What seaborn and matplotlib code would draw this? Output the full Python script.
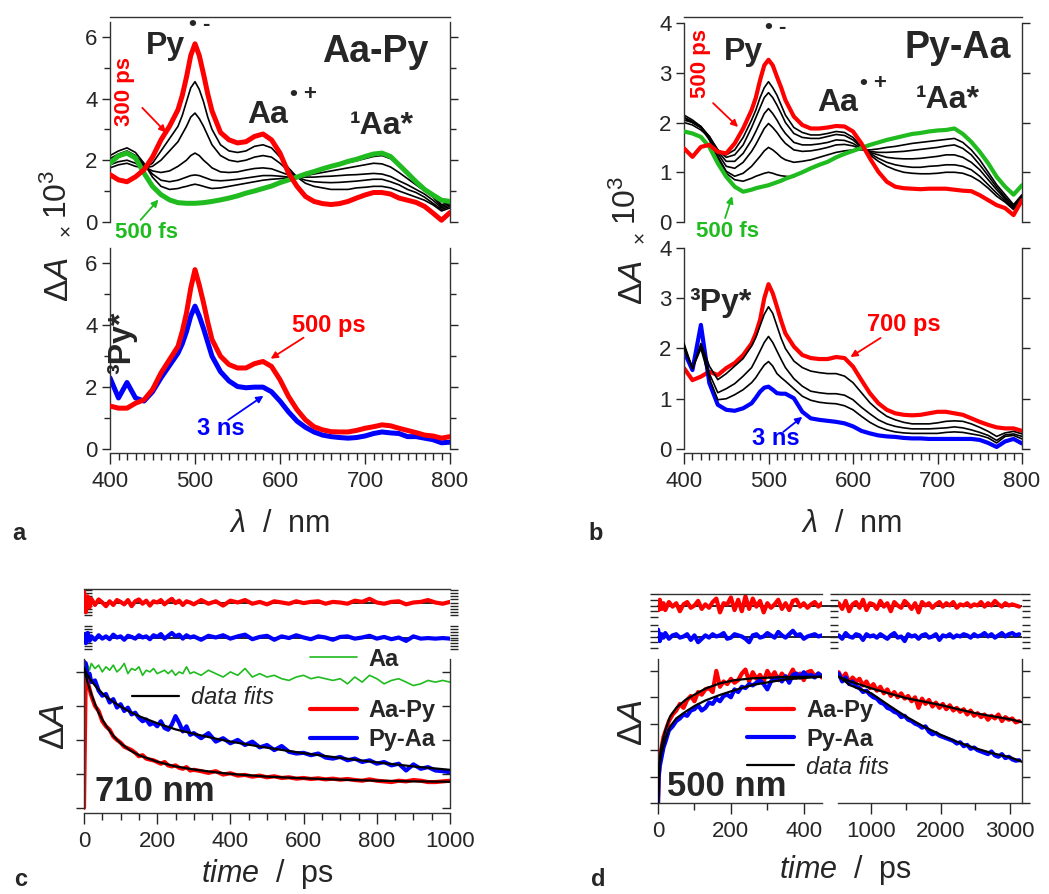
import matplotlib
matplotlib.use("Agg")
import matplotlib.pyplot as plt
from matplotlib.lines import Line2D
from matplotlib.ticker import MultipleLocator, FixedLocator
import seaborn as sns

# ---------------- data ----------------
wl = [400, 410, 420, 430, 440, 450, 460, 470, 480,
      485, 490, 495, 500, 505, 510, 515,
      520, 530, 540, 550, 560, 570, 580, 590, 600, 610, 620, 630, 640, 650,
      660, 670, 680, 690, 700, 710, 720, 730, 740, 750, 760, 770, 780, 790, 800]

# panel a, top (Aa-Py)
a_top_red = [1.53, 1.36, 1.30, 1.46, 1.69, 2.1, 2.66, 3.1, 3.64,
             4.1, 4.7, 5.4, 5.78, 5.4, 4.8, 4.15,
             3.6, 2.9, 2.66, 2.56, 2.6, 2.77, 2.85, 2.66, 2.23, 1.58, 1.15, 0.82, 0.66, 0.59,
             0.56, 0.59, 0.66, 0.77, 0.87, 0.95, 0.95, 0.9, 0.77, 0.7, 0.63, 0.5, 0.28, 0.05, 0.3]
a_top_green = [1.9, 2.14, 2.23, 2.07, 1.58, 1.15, 0.88, 0.71, 0.62,
               0.61, 0.6, 0.6, 0.6, 0.61, 0.62, 0.64,
               0.66, 0.71, 0.77, 0.84, 0.93, 1.0, 1.08, 1.16, 1.27, 1.36, 1.45, 1.55, 1.63, 1.72,
               1.8, 1.87, 1.96, 2.03, 2.12, 2.2, 2.23, 2.12, 1.85, 1.58, 1.3, 1.05, 0.87, 0.7, 0.66]
a_top_k1 = [1.75, 1.85, 1.9, 1.8, 1.75, 1.9, 2.3, 2.7, 3.1,
            3.45, 3.9, 4.35, 4.55, 4.3, 3.9, 3.4,
            3.0, 2.5, 2.3, 2.25, 2.3, 2.45, 2.5, 2.4, 2.1, 1.75, 1.45, 1.25, 1.15, 1.1,
            1.05, 1.05, 1.05, 1.1, 1.12, 1.15, 1.15, 1.1, 1.0, 0.9, 0.8, 0.7, 0.55, 0.35, 0.45]
a_top_k2 = [1.85, 1.95, 2.0, 1.9, 1.75, 1.8, 2.0, 2.3, 2.6,
            2.85, 3.1, 3.4, 3.53, 3.35, 3.1, 2.8,
            2.5, 2.15, 2.0, 1.95, 2.0, 2.1, 2.15, 2.1, 1.9, 1.65, 1.45, 1.35, 1.3, 1.28,
            1.27, 1.28, 1.3, 1.32, 1.35, 1.38, 1.38, 1.3, 1.2, 1.05, 0.95, 0.8, 0.6, 0.4, 0.5]
a_top_k3 = [1.95, 2.1, 2.2, 2.05, 1.8, 1.65, 1.6, 1.65, 1.8,
            1.9, 2.0, 2.15, 2.23, 2.15, 2.0, 1.88,
            1.75, 1.62, 1.6, 1.62, 1.68, 1.73, 1.75, 1.72, 1.62, 1.52, 1.45, 1.45, 1.45, 1.47,
            1.48, 1.5, 1.52, 1.53, 1.55, 1.57, 1.55, 1.47, 1.33, 1.2, 1.05, 0.9, 0.7, 0.45, 0.55]
a_top_k4 = [2.05, 2.2, 2.3, 2.15, 1.85, 1.55, 1.35, 1.3, 1.35,
            1.4, 1.45, 1.5, 1.52, 1.5, 1.45, 1.4,
            1.35, 1.33, 1.35, 1.38, 1.42, 1.46, 1.5, 1.5, 1.48, 1.45, 1.45, 1.5, 1.55, 1.6,
            1.65, 1.7, 1.75, 1.8, 1.85, 1.9, 1.88, 1.78, 1.6, 1.4, 1.2, 1.0, 0.8, 0.5, 0.6]
a_top_k5 = [2.15, 2.3, 2.4, 2.25, 1.9, 1.45, 1.15, 1.05, 1.08,
            1.12, 1.15, 1.19, 1.22, 1.19, 1.15, 1.11,
            1.08, 1.1, 1.15, 1.2, 1.25, 1.3, 1.35, 1.38, 1.4, 1.43, 1.47, 1.55, 1.62, 1.7,
            1.78, 1.85, 1.92, 1.98, 2.05, 2.12, 2.15, 2.05, 1.85, 1.6, 1.35, 1.1, 0.9, 0.55, 0.65]

# panel a, bottom
a_bot_red = [1.39, 1.32, 1.32, 1.48, 1.59, 1.92, 2.46, 2.89, 3.32,
             3.8, 4.4, 5.2, 5.8, 5.3, 4.73, 4.1,
             3.54, 3.0, 2.73, 2.62, 2.62, 2.76, 2.83, 2.67, 2.24, 1.7, 1.27, 0.94, 0.72, 0.62,
             0.56, 0.55, 0.55, 0.6, 0.67, 0.72, 0.78, 0.75, 0.67, 0.6, 0.53, 0.45, 0.42, 0.35, 0.4]
a_bot_blue = [2.3, 1.65, 2.15, 1.65, 1.55, 1.85, 2.3, 2.7, 3.1,
              3.4, 3.8, 4.3, 4.62, 4.3, 3.9, 3.45,
              3.0, 2.5, 2.2, 2.02, 1.98, 2.0, 2.0, 1.85, 1.55, 1.2, 0.9, 0.7, 0.55, 0.45,
              0.4, 0.37, 0.35, 0.37, 0.42, 0.5, 0.55, 0.52, 0.5, 0.4, 0.4, 0.35, 0.3, 0.2, 0.22]

# panel b, top (Py-Aa)
b_top_red = [1.48, 1.31, 1.51, 1.55, 1.41, 1.38, 1.58, 1.88, 2.25,
             2.5, 2.85, 3.15, 3.26, 3.15, 2.92, 2.7,
             2.45, 2.12, 1.95, 1.88, 1.88, 1.9, 1.93, 1.92, 1.82, 1.58, 1.28, 1.01, 0.81, 0.71,
             0.68, 0.67, 0.66, 0.67, 0.67, 0.67, 0.65, 0.63, 0.62, 0.54, 0.44, 0.34, 0.28, 0.14, 0.44]
b_top_green = [1.82, 1.78, 1.71, 1.51, 1.18, 0.91, 0.71, 0.61, 0.65,
               0.68, 0.7, 0.72, 0.74, 0.77, 0.8, 0.83,
               0.87, 0.93, 1.0, 1.08, 1.15, 1.21, 1.3, 1.37, 1.43, 1.49, 1.55, 1.6, 1.65, 1.69,
               1.73, 1.77, 1.79, 1.82, 1.84, 1.85, 1.88, 1.77, 1.61, 1.41, 1.18, 0.91, 0.71, 0.55, 0.74]
b_top_m1 = [2.0, 1.95, 1.85, 1.7, 1.45, 1.35, 1.45, 1.7, 2.05,
            2.25, 2.5, 2.7, 2.82, 2.7, 2.55, 2.35,
            2.15, 1.9, 1.8, 1.75, 1.75, 1.78, 1.82, 1.8, 1.7, 1.52, 1.35, 1.22, 1.12, 1.05,
            1.0, 0.98, 0.97, 0.97, 0.98, 1.0, 1.0, 0.98, 0.92, 0.82, 0.68, 0.52, 0.4, 0.25, 0.45]
b_top_m2 = [2.05, 2.0, 1.9, 1.72, 1.45, 1.3, 1.35, 1.55, 1.9,
            2.1, 2.3, 2.5, 2.6, 2.5, 2.35, 2.18,
            2.0, 1.78, 1.7, 1.68, 1.68, 1.72, 1.76, 1.74, 1.65, 1.5, 1.38, 1.28, 1.2, 1.15,
            1.12, 1.1, 1.1, 1.12, 1.13, 1.15, 1.15, 1.12, 1.05, 0.92, 0.75, 0.58, 0.43, 0.27, 0.47]
b_top_m3 = [2.1, 2.02, 1.92, 1.72, 1.42, 1.22, 1.22, 1.38, 1.65,
            1.82, 2.0, 2.18, 2.28, 2.18, 2.05, 1.9,
            1.78, 1.6, 1.55, 1.55, 1.57, 1.6, 1.65, 1.64, 1.58, 1.48, 1.4, 1.35, 1.3, 1.28,
            1.27, 1.27, 1.28, 1.3, 1.32, 1.35, 1.35, 1.3, 1.2, 1.05, 0.85, 0.65, 0.47, 0.3, 0.5]
b_top_m4 = [2.1, 2.0, 1.9, 1.7, 1.38, 1.12, 1.08, 1.2, 1.42,
            1.56, 1.72, 1.88, 1.98, 1.9, 1.8, 1.68,
            1.58, 1.45, 1.42, 1.43, 1.46, 1.5, 1.55, 1.56, 1.53, 1.47, 1.42, 1.4, 1.4, 1.41,
            1.42, 1.44, 1.46, 1.48, 1.5, 1.53, 1.55, 1.48, 1.35, 1.15, 0.93, 0.7, 0.5, 0.32, 0.52]
b_top_m5 = [2.15, 2.05, 1.92, 1.7, 1.32, 1.02, 0.92, 0.98, 1.12,
            1.22, 1.32, 1.43, 1.5, 1.45, 1.38, 1.3,
            1.25, 1.2, 1.22, 1.25, 1.3, 1.35, 1.4, 1.43, 1.45, 1.45, 1.45, 1.47, 1.5, 1.52,
            1.55, 1.58, 1.6, 1.62, 1.64, 1.66, 1.68, 1.6, 1.45, 1.25, 1.0, 0.75, 0.55, 0.35, 0.55]
b_top_m6 = [2.1, 2.0, 1.9, 1.65, 1.28, 0.98, 0.85, 0.82, 0.88,
            0.92, 0.95, 0.98, 1.0, 0.98, 0.95, 0.93,
            0.92, 0.9]  # stops at 530 nm

# panel b, bottom
b_bot_red = [1.61, 1.37, 1.44, 1.54, 1.47, 1.61, 1.71, 1.87, 2.1,
             2.3, 2.57, 3.0, 3.28, 3.1, 2.83, 2.55,
             2.3, 2.04, 1.87, 1.81, 1.79, 1.79, 1.83, 1.81, 1.64, 1.37, 1.11, 0.91, 0.78, 0.71,
             0.68, 0.67, 0.68, 0.71, 0.74, 0.74, 0.71, 0.68, 0.61, 0.54, 0.48, 0.43, 0.41, 0.41, 0.36]
b_bot_blue = [1.94, 1.57, 2.47, 1.31, 0.88, 0.78, 0.76, 0.81, 0.91,
              1.02, 1.14, 1.22, 1.24, 1.18, 1.11, 1.1,
              1.1, 1.01, 0.74, 0.61, 0.58, 0.56, 0.54, 0.51, 0.45, 0.36, 0.31, 0.27, 0.25, 0.24,
              0.22, 0.21, 0.21, 0.2, 0.2, 0.2, 0.2, 0.2, 0.2, 0.18, 0.12, 0.04, 0.15, 0.2, 0.11]
b_bot_n1 = [2.1, 1.6, 2.1, 1.65, 1.38, 1.5, 1.65, 1.8, 2.05,
            2.22, 2.45, 2.68, 2.83, 2.7, 2.45, 2.2,
            2.0, 1.75, 1.62, 1.55, 1.52, 1.5, 1.5, 1.45, 1.32, 1.12, 0.92, 0.77, 0.65, 0.58,
            0.53, 0.5, 0.5, 0.5, 0.52, 0.55, 0.56, 0.55, 0.5, 0.43, 0.35, 0.25, 0.32, 0.35, 0.3]
b_bot_n2 = [2.05, 1.6, 2.05, 1.5, 1.12, 1.2, 1.3, 1.45, 1.62,
            1.78, 1.95, 2.12, 2.24, 2.12, 1.95, 1.78,
            1.62, 1.4, 1.25, 1.15, 1.12, 1.1, 1.1, 1.07, 0.98, 0.83, 0.7, 0.58, 0.5, 0.45,
            0.42, 0.4, 0.4, 0.4, 0.41, 0.42, 0.44, 0.42, 0.38, 0.33, 0.27, 0.17, 0.28, 0.3, 0.25]
b_bot_n3 = [2.0, 1.6, 2.0, 1.4, 0.98, 1.0, 1.08, 1.18, 1.32,
            1.42, 1.55, 1.67, 1.74, 1.65, 1.5, 1.42,
            1.35, 1.2, 1.05, 0.97, 0.93, 0.91, 0.9, 0.86, 0.78, 0.65, 0.53, 0.44, 0.38, 0.34,
            0.32, 0.31, 0.31, 0.31, 0.31, 0.33, 0.34, 0.33, 0.3, 0.27, 0.22, 0.12, 0.25, 0.27, 0.2]

# panel c, kinetics at 710 nm
t_c = [0, 5, 10, 15, 20, 30, 40, 50, 60, 70, 80, 90, 100, 110, 120, 130, 140, 150, 160, 170,
       180, 190, 200, 210, 220, 230, 240, 250, 260, 270, 280, 290, 300,
       320, 340, 360, 380, 400, 420, 440, 460, 480, 500, 520, 540, 560, 580, 600, 620, 640,
       660, 680, 700, 720, 740, 760, 780, 800, 820, 840, 860, 880, 900, 920, 940, 960, 980, 1000]
c_red = [0.0, 4.15, 3.7, 3.5, 3.3, 3.0, 2.85, 2.55, 2.4, 2.3, 2.1, 2.0, 1.92, 1.8, 1.75, 1.7,
         1.62, 1.52, 1.55, 1.45, 1.42, 1.4, 1.35, 1.3, 1.35, 1.25, 1.22, 1.25, 1.18, 1.15,
         1.2, 1.1, 1.12,
         1.08, 1.03, 1.08, 0.98, 1.02, 0.95, 0.97, 0.92, 0.95, 0.9, 0.93, 0.88, 0.9, 0.86, 0.88,
         0.85, 0.87, 0.84, 0.86, 0.83, 0.85, 0.82, 0.8, 0.84, 0.8, 0.78, 0.76, 0.8, 0.78, 0.82,
         0.8, 0.76, 0.76, 0.78, 0.8]
c_blue = [4.3, 4.25, 3.85, 3.95, 3.7, 3.75, 3.45, 3.3, 3.35, 3.1, 3.2, 2.95, 3.05, 2.85, 2.95,
          2.75, 2.8, 2.65, 2.55, 2.6, 2.45, 2.5, 2.4, 2.55, 2.35, 2.3, 2.45, 2.7, 2.5, 2.25,
          2.4, 2.15, 2.2,
          2.05, 2.2, 1.95, 2.05, 1.9, 2.0, 1.85, 1.95, 1.78, 1.85, 1.7, 1.82, 1.65, 1.6, 1.62,
          1.55, 1.6, 1.48, 1.45, 1.5, 1.4, 1.45, 1.35, 1.4, 1.3, 1.35, 1.25, 1.3, 1.1, 1.28,
          1.15, 1.2, 1.1, 1.08, 1.05]
c_green = [4.3, 4.1, 4.2, 4.05, 4.25, 4.1, 4.2, 4.0, 4.15, 4.05, 4.2, 4.0, 4.1, 4.25, 3.95,
           4.1, 4.05, 4.15, 3.9, 4.05, 4.0, 4.1, 3.95, 4.0, 4.05, 3.95, 4.05, 3.9, 4.0, 3.95,
           4.15, 3.95, 4.0,
           3.9, 4.05, 3.95, 3.85, 4.0, 3.9, 4.1, 3.85, 3.95, 3.85, 3.9, 3.8, 3.75, 3.85, 3.9,
           3.8, 3.85, 3.8, 3.75, 3.8, 3.65, 3.85, 3.7, 3.9, 3.8, 3.65, 3.75, 3.8, 3.7, 3.6,
           3.65, 3.75, 3.7, 3.75, 3.7]
c_red_res = [0.9, -0.8, 0.5, -0.4, 0.3, -0.2, 0.25, 0.0, -0.3, 0.1, -0.2, 0.2, 0.05, -0.15,
             0.2, -0.3, 0.1, 0.25, -0.1, 0.15, -0.25, 0.1, 0.0, 0.2, -0.15, 0.1, 0.3, -0.05,
             0.15, -0.2, 0.1, 0.0, -0.15,
             0.2, -0.1, 0.1, -0.25, 0.15, 0.0, 0.2, -0.1, 0.05, -0.15, 0.1, 0.0, -0.1, 0.1,
             -0.05, 0.05, 0.1, -0.1, 0.05, 0.0, -0.1, 0.15, 0.05, 0.3, 0.0, -0.1, 0.05, 0.1,
             -0.15, 0.0, 0.05, 0.2, 0.0, -0.1, 0.05]
c_blue_res = [0.3, -0.5, 0.4, -0.3, 0.1, -0.2, 0.2, -0.1, 0.1, -0.15, 0.25, 0.0, 0.1, -0.2,
              0.15, 0.05, -0.1, 0.2, 0.0, 0.1, -0.15, 0.2, 0.05, 0.3, -0.1, 0.15, 0.4, 0.1,
              0.25, -0.1, 0.2, 0.0, 0.1,
              -0.2, 0.15, 0.0, 0.2, -0.1, 0.1, 0.25, -0.15, 0.05, 0.15, -0.2, 0.1, -0.05, 0.2,
              0.0, -0.15, 0.1, 0.0, -0.2, 0.05, 0.1, -0.1, 0.0, 0.15, -0.1, 0.05, -0.15, 0.0,
              -0.3, 0.1, -0.1, -0.05, -0.1, -0.05, -0.1]
t_c_fit = [0, 5, 10, 20, 30, 40, 50, 60, 80, 100, 125, 150, 200, 250, 300, 350, 400,
           500, 600, 700, 800, 900, 1000]
c_red_fit = [4.12, 3.9, 3.68, 3.35, 3.05, 2.8, 2.6, 2.42, 2.12, 1.9, 1.7, 1.55, 1.36, 1.22,
             1.13, 1.06, 1.0, 0.92, 0.87, 0.83, 0.8, 0.78, 0.77]
c_blue_fit = [4.12, 4.0, 3.9, 3.74, 3.6, 3.48, 3.37, 3.27, 3.12, 2.98, 2.83, 2.7, 2.49, 2.31,
              2.18, 2.06, 1.95, 1.77, 1.61, 1.47, 1.34, 1.22, 1.12]

# panel d, kinetics at 500 nm (broken time axis)
t_dl = [0, 2, 5, 10, 15, 20, 30, 40, 50, 60, 70, 80, 90, 100, 110, 120, 130, 140, 150, 160,
        170, 180, 190, 200, 210, 220, 230, 240, 250, 260, 270, 280, 290, 300, 310, 320, 330,
        340, 350, 360, 370, 380, 390, 400, 410, 420, 430, 440, 450]
d_red_l = [0.0, 1.0, 1.8, 2.1, 2.5, 2.7, 3.1, 3.35, 3.5, 3.75, 3.6, 3.9, 4.05, 3.85, 4.2, 4.1,
           4.3, 4.35, 4.2, 5.0, 4.4, 4.6, 4.5, 4.7, 4.55, 4.65, 4.9, 5.05, 4.6, 4.95, 4.7, 4.85,
           4.6, 5.0, 4.75, 4.95, 4.65, 4.9, 4.7, 4.8, 5.05, 4.75, 4.9, 4.65, 4.95, 5.0, 4.8,
           4.9, 4.75]
d_blue_l = [0.0, 1.0, 1.4, 1.75, 2.1, 2.3, 2.75, 2.9, 3.1, 3.2, 3.35, 3.3, 3.5, 3.55, 3.7, 3.5,
            3.6, 3.8, 3.75, 3.95, 3.85, 4.05, 4.1, 4.0, 4.3, 4.2, 4.4, 4.35, 4.5, 4.45, 4.55,
            4.65, 4.5, 4.3, 4.6, 4.7, 4.75, 4.6, 4.8, 4.55, 4.85, 4.9, 4.75, 4.95, 4.8, 4.85,
            4.75, 4.9, 4.8]
d_red_res_l = [0.3, -0.4, 0.5, -0.3, 0.2, -0.4, 0.3, -0.1, 0.2, -0.5, 0.1, 0.3, -0.2, 0.0,
               0.4, -0.3, 0.1, -0.2, 0.3, 0.6, -0.6, 0.2, 0.1, 0.7, -0.4, 0.5, -0.5, 0.8, -0.3,
               0.6, -0.1, 0.4, -0.6, 0.2, -0.2, 0.1, 0.5, -0.3, 0.2, -0.4, 0.4, 0.5, -0.1, 0.2,
               -0.2, 0.1, 0.3, -0.1, 0.2]
d_blue_res_l = [0.6, 0.3, -0.4, 0.2, -0.1, 0.3, -0.2, 0.1, 0.2, -0.1, 0.0, 0.2, -0.3, 0.1,
                -0.5, -0.2, 0.1, -0.1, 0.2, 0.0, 0.1, 0.3, -0.2, -0.1, 0.2, 0.1, 0.0, -0.2,
                -0.5, 0.1, 0.2, -0.1, 0.0, 0.3, 0.1, -0.1, 0.4, 0.1, -0.1, 0.2, 0.5, 0.1, 0.2,
                -0.2, 0.0, 0.1, 0.2, 0.0, 0.1]
t_dr = [530, 580, 630, 680, 730, 780, 830, 880, 930, 980, 1030, 1080, 1130, 1180, 1230, 1280,
        1330, 1380, 1430, 1480, 1530, 1580, 1630, 1680, 1730, 1780, 1830, 1880, 1930, 1980,
        2030, 2080, 2130, 2180, 2230, 2280, 2330, 2380, 2430, 2480, 2530, 2580, 2630, 2680,
        2730, 2780, 2830, 2880, 2930, 2980, 3030, 3080, 3130]
d_red_r = [4.95, 4.7, 4.9, 4.55, 4.75, 4.6, 4.7, 4.45, 4.6, 4.35, 4.5, 4.25, 4.4, 4.15, 4.3,
           4.05, 4.2, 4.0, 4.15, 3.95, 4.05, 3.85, 4.0, 3.6, 3.95, 3.75, 3.9, 3.65, 3.8, 3.6,
           3.75, 3.55, 3.7, 3.5, 3.6, 3.45, 3.55, 3.35, 3.5, 3.3, 3.4, 3.25, 3.35, 3.15, 3.3,
           3.2, 3.35, 3.1, 3.25, 3.15, 3.2, 3.05, 3.1]
d_blue_r = [4.9, 4.6, 4.75, 4.5, 4.6, 4.4, 4.35, 4.2, 4.25, 4.1, 4.0, 3.95, 3.8, 3.75, 3.6,
            3.55, 3.45, 3.4, 3.25, 3.3, 3.15, 3.1, 3.0, 2.95, 2.85, 2.9, 2.7, 2.6, 2.65, 2.55,
            2.5, 2.45, 2.4, 2.35, 2.25, 2.3, 2.15, 2.2, 2.05, 2.1, 2.0, 1.95, 1.9, 1.85, 1.95,
            1.8, 1.75, 1.85, 1.7, 1.75, 1.65, 1.6, 1.62]
d_red_res_r = [0.2, -0.3, 0.4, -0.5, 0.1, 0.3, -0.2, 0.5, -0.4, 0.2, 0.1, -0.3, 0.4, -0.1,
               0.2, -0.5, 0.3, 0.0, -0.2, 0.4, 0.1, -0.3, 0.2, -0.6, 0.3, 0.0, 0.2, -0.2, 0.1,
               0.3, -0.1, 0.2, 0.0, 0.3, -0.2, 0.1, 0.0, 0.2, -0.1, 0.1, 0.0, 0.3, -0.1, 0.2,
               0.0, 0.4, 0.1, -0.1, 0.2, 0.0, 0.1, 0.0, -0.1]
d_blue_res_r = [0.1, -0.2, 0.3, 0.0, -0.1, 0.2, 0.1, -0.3, 0.2, 0.0, 0.1, -0.1, 0.2, 0.0,
                -0.2, 0.1, 0.3, -0.1, 0.0, -0.4, 0.2, 0.0, 0.1, -0.2, 0.1, 0.2, -0.1, 0.0, 0.2,
                -0.3, 0.1, 0.0, 0.2, -0.1, 0.1, 0.0, 0.2, 0.1, -0.1, 0.2, 0.0, 0.1, 0.3, 0.0,
                0.2, -0.1, 0.1, 0.3, 0.0, 0.2, 0.3, 0.1, 0.2]
t_dl_fit = [0, 3, 5, 10, 20, 33, 50, 75, 100, 130, 170, 210, 260, 350, 450]
d_red_fit_l = [0, 1.2, 1.7, 2.2, 2.75, 3.27, 3.6, 3.9, 4.1, 4.33, 4.53, 4.65, 4.72, 4.77, 4.78]
d_blue_fit_l = [0, 1.0, 1.5, 1.9, 2.4, 2.89, 3.2, 3.45, 3.67, 3.88, 4.09, 4.27, 4.47, 4.68, 4.78]
t_dr_fit = [530, 700, 1000, 1250, 1500, 1750, 2000, 2250, 2500, 2750, 3000, 3170]
d_red_fit_r = [4.78, 4.6, 4.34, 4.15, 3.97, 3.84, 3.71, 3.55, 3.4, 3.28, 3.17, 3.06]
d_blue_fit_r = [4.78, 4.45, 4.15, 3.7, 3.27, 2.9, 2.58, 2.3, 2.07, 1.88, 1.73, 1.56]

# ---------------- style ----------------
sns.set_style("ticks")
plt.rcParams["font.family"] = ["Liberation Sans", "DejaVu Sans"]
plt.rcParams["mathtext.fontset"] = "custom"
plt.rcParams["mathtext.rm"] = "Liberation Sans"
plt.rcParams["mathtext.it"] = "Liberation Sans:italic"
plt.rcParams["mathtext.bf"] = "Liberation Sans:bold"
plt.rcParams["axes.linewidth"] = 1.0
plt.rcParams["axes.edgecolor"] = "#333333"

RED, BLUE, GREEN, BLACK = "#ff0000", "#0000ff", "#1fbb1f", "black"
TICK = 16

W, H = 1049, 894
fig = plt.figure(figsize=(W / 100, H / 100), dpi=100)


def box(x0, y0, x1, y1):
    ax = fig.add_axes([x0 / W, 1 - y1 / H, (x1 - x0) / W, (y1 - y0) / H])
    ax.patch.set_visible(False)
    return ax


def ftext(px, py, s, **kw):
    fig.text(px / W, 1 - py / H, s, ha="center", va="center", **kw)


def line(ax, x, y, color, lw, z=2):
    sns.lineplot(x=x, y=y, ax=ax, color=color, linewidth=lw, estimator=None,
                 sort=False, legend=False, zorder=z)


def spectra_axes(ax, ylim, top, major, minor, xaxis):
    ax.set_xlim(400, 800)
    ax.set_ylim(*ylim)
    ax.yaxis.set_major_locator(FixedLocator(major))
    ax.yaxis.set_minor_locator(FixedLocator(minor))
    ax.spines["left"].set_bounds(0, top)
    ax.spines["right"].set_bounds(0, top)
    ax.tick_params(axis="y", which="both", left=True, right=True, labelright=False,
                   direction="out", width=1, labelsize=TICK, pad=3)
    ax.tick_params(axis="y", which="major", length=6)
    ax.tick_params(axis="y", which="minor", length=4)
    if xaxis:
        ax.spines["top"].set_visible(False)
        ax.xaxis.set_major_locator(MultipleLocator(100))
        ax.xaxis.set_minor_locator(MultipleLocator(10))
        ax.tick_params(axis="x", which="both", bottom=True, direction="out", width=1)
        ax.tick_params(axis="x", which="major", length=8, labelsize=TICK, pad=5)
        ax.tick_params(axis="x", which="minor", length=5)
    else:
        ax.spines["bottom"].set_visible(False)
        ax.tick_params(axis="x", which="both", bottom=False, labelbottom=False)


def arrow(ax, head, tail, color):
    ax.annotate("", xy=head, xytext=tail, annotation_clip=False,
                arrowprops=dict(arrowstyle="-|>", color=color, lw=1.3,
                                mutation_scale=10, shrinkA=0, shrinkB=0))


bold = dict(fontweight="bold", ha="center", va="center")

# ---------------- panel a ----------------
ax = box(110, 17, 450, 231)
for k in [a_top_k1, a_top_k2, a_top_k3, a_top_k4, a_top_k5]:
    line(ax, wl, k, BLACK, 1.2)
line(ax, wl, a_top_green, GREEN, 3.6, 3)
line(ax, wl, a_top_red, RED, 3.6, 4)
spectra_axes(ax, (-0.3, 6.65), 6.5, [0, 2, 4, 6], [1, 3, 5], False)
ax.text(416.5, 4.22, "300 ps", color=RED, rotation=90, fontsize=16, **bold)
arrow(ax, (466, 2.9), (438, 3.7), RED)
ax.text(442.5, -0.36, "500 fs", color=GREEN, fontsize=16, **bold)
arrow(ax, (457, 0.72), (436, 0.06), GREEN)
ax.text(465, 5.71, "Py", fontsize=23, **bold)
ax.text(506, 6.4, "• -", fontsize=16, **bold)
ax.text(712, 5.52, "Aa-Py", fontsize=27, **bold)
ax.text(585, 3.47, "Aa", fontsize=23, **bold)
ax.text(628, 4.12, "• +", fontsize=16, **bold)
ax.text(720, 3.12, "¹Aa*", fontsize=23, **bold)

ax = box(110, 248, 450, 453)
line(ax, wl, a_bot_blue, BLUE, 3.6)
line(ax, wl, a_bot_red, RED, 3.6, 3)
spectra_axes(ax, (-0.13, 6.5), 6.5, [0, 2, 4, 6], [1, 3, 5], True)
ax.text(414, 3.44, "³Py*", rotation=90, fontsize=23, **bold)
ax.text(658, 3.99, "500 ps", color=RED, fontsize=17, **bold)
arrow(ax, (589, 2.92), (627.7, 3.6), RED)
ax.text(530, 0.65, "3 ns", color=BLUE, fontsize=17, **bold)
arrow(ax, (580.5, 1.72), (539, 0.94), BLUE)

ftext(60, 280, r"$\Delta A$", rotation=90, fontsize=24)
ftext(66, 230, "×", rotation=90, fontsize=15)
ftext(58, 194, r"$10^{3}$", rotation=90, fontsize=23)
ftext(280, 524, r"$\lambda$  /  nm", fontsize=22)
ftext(19, 534, "a", fontsize=17, fontweight="bold")

# ---------------- panel b ----------------
ax = box(684, 17, 1022, 232)
for k in [b_top_m1, b_top_m2, b_top_m3, b_top_m4, b_top_m5]:
    line(ax, wl, k, BLACK, 1.2)
line(ax, wl[:len(b_top_m6)], b_top_m6, BLACK, 1.2)
line(ax, wl, b_top_green, GREEN, 3.0, 3)
line(ax, wl, b_top_red, RED, 3.0, 4)
spectra_axes(ax, (-0.2, 4.12), 4, [0, 1, 2, 3, 4], [], False)
ax.text(419, 3.18, "500 ps", color=RED, rotation=90, fontsize=16, **bold)
arrow(ax, (464, 1.91), (434.4, 2.39), RED)
ax.text(451, -0.2, "500 fs", color=GREEN, fontsize=16, **bold)
arrow(ax, (457, 0.52), (448.7, 0.08), GREEN)
ax.text(470, 3.42, "Py", fontsize=23, **bold)
ax.text(509, 3.9, "• -", fontsize=16, **bold)
ax.text(724, 3.5, "Py-Aa", fontsize=27, **bold)
ax.text(581.6, 2.39, "Aa", fontsize=23, **bold)
ax.text(624, 2.79, "• +", fontsize=16, **bold)
ax.text(712, 2.45, "¹Aa*", fontsize=23, **bold)

ax = box(684, 248, 1022, 453)
line(ax, wl, b_bot_red, RED, 3.0)
line(ax, wl, b_bot_blue, BLUE, 3.0)
for k in [b_bot_n1, b_bot_n2, b_bot_n3]:
    line(ax, wl, k, BLACK, 1.2, 3)
spectra_axes(ax, (-0.08, 4.0), 4, [0, 1, 2, 3, 4], [], True)
ax.text(442.7, 2.91, "³Py*", fontsize=23, **bold)
ax.text(660, 2.47, "700 ps", color=RED, fontsize=17, **bold)
arrow(ax, (597, 1.83), (632.6, 2.21), RED)
ax.text(509, 0.2, "3 ns", color=BLUE, fontsize=17, **bold)
arrow(ax, (540, 0.64), (517.5, 0.34), BLUE)

ftext(634, 283, r"$\Delta A$", rotation=90, fontsize=24)
ftext(640, 237, "×", rotation=90, fontsize=15)
ftext(627, 200, r"$10^{3}$", rotation=90, fontsize=23)
ftext(852, 524, r"$\lambda$  /  nm", fontsize=22)
ftext(596, 533, "b", fontsize=17, fontweight="bold")


# ---------------- kinetics helpers ----------------
def residual_axes(ax, ylim, ticks, top, left_dir, right_dir, left=True, right=True):
    ax.set_ylim(*ylim)
    for s in ["left", "right", "bottom"]:
        ax.spines[s].set_visible(False)
    ax.spines["top"].set_visible(top)
    ax.set_yticks(ticks)
    ax.tick_params(axis="x", bottom=False, labelbottom=False)
    ax.tick_params(axis="y", left=left, right=False, labelleft=False,
                   direction=left_dir, length=6, width=1)
    if right:
        tw = ax.twinx()
        tw.set_ylim(*ylim)
        tw.set_yticks(ticks)
        for s in tw.spines.values():
            s.set_visible(False)
        tw.tick_params(axis="y", right=True, labelright=False, direction=right_dir,
                       length=6, width=1)


# ---------------- panel c ----------------
res_ticks9 = [-1, -0.75, -0.5, -0.25, 0, 0.25, 0.5, 0.75, 1]
ax = box(84, 589, 450, 616)
ax.axhline(0, color=BLACK, lw=1.2)
line(ax, t_c, c_red_res, RED, 3.0)
ax.set_xlim(0, 1000)
residual_axes(ax, (-1.1, 1.1), res_ticks9, True, "in", "out")

ax = box(84, 625, 450, 650)
ax.axhline(0, color=BLACK, lw=1.2)
line(ax, t_c, c_blue_res, BLUE, 3.0)
ax.set_xlim(0, 1000)
residual_axes(ax, (-1.1, 1.1), res_ticks9, False, "in", "out")

ax = box(84, 659, 450, 813)
line(ax, t_c, c_green, GREEN, 1.2)
line(ax, t_c, c_red, RED, 3.0)
line(ax, t_c, c_blue, BLUE, 3.0)
line(ax, t_c_fit, c_red_fit, BLACK, 1.6, 4)
line(ax, t_c_fit, c_blue_fit, BLACK, 1.6, 4)
ax.set_xlim(0, 1000)
ax.set_ylim(-0.15, 4.38)
ax.spines["top"].set_visible(False)
ax.spines["left"].set_bounds(0, 4.38)
ax.spines["right"].set_bounds(0, 4.38)
ax.set_yticks([0, 1, 2, 3, 4])
ax.tick_params(axis="y", left=True, right=False, labelleft=False, direction="out",
               length=6, width=1)
ax.xaxis.set_major_locator(MultipleLocator(200))
ax.xaxis.set_minor_locator(MultipleLocator(50))
ax.tick_params(axis="x", which="both", bottom=True, direction="out", width=1)
ax.tick_params(axis="x", which="major", length=8, labelsize=TICK, pad=5)
ax.tick_params(axis="x", which="minor", length=5)
tw = ax.twinx()
tw.set_ylim(-0.15, 4.38)
tw.set_yticks([0, 1, 2, 3, 4])
for s in tw.spines.values():
    s.set_visible(False)
tw.tick_params(axis="y", right=True, labelright=False, direction="in", length=6, width=1)
ax.text(194, 0.47, "710 nm", fontsize=25, **bold)
leg_kw = dict(frameon=False, handlelength=2.0, handletextpad=0.5, borderpad=0,
              borderaxespad=0, loc="center left")
l1 = ax.legend([Line2D([], [], color=GREEN, lw=1.2)], ["Aa"], bbox_to_anchor=(0.617, 1.0),
               prop=dict(weight="bold", size=17), **leg_kw)
ax.add_artist(l1)
l2 = ax.legend([Line2D([], [], color=BLACK, lw=1.6)], ["data fits"],
               bbox_to_anchor=(0.131, 0.747), prop=dict(style="italic", size=17), **leg_kw)
ax.add_artist(l2)
ax.legend([Line2D([], [], color=RED, lw=3.0), Line2D([], [], color=BLUE, lw=3.0)],
          ["Aa-Py", "Py-Aa"], bbox_to_anchor=(0.617, 0.571), labelspacing=0.25,
          prop=dict(weight="bold", size=17), **leg_kw)

ftext(55, 727, r"$\Delta A$", rotation=90, fontsize=25)
ftext(268, 874, r"$\mathit{time}$  /  ps", fontsize=22)
ftext(21, 879, "c", fontsize=17, fontweight="bold")

# ---------------- panel d ----------------
res_ticks5 = [-1, -0.5, 0, 0.5, 1]
axl = box(658, 594, 822, 617)
axl.axhline(0, color=BLACK, lw=1.2, xmin=0, xmax=1.1, clip_on=False)
line(axl, t_dl, d_red_res_l, RED, 3.0)
axl.set_xlim(0, 450)
residual_axes(axl, (-1.0, 1.0), res_ticks5, True, "out", "out", right=False)
axr = box(838, 594, 1022, 617)
axr.axhline(0, color=BLACK, lw=1.2)
line(axr, t_dr, d_red_res_r, RED, 3.0)
axr.set_xlim(520, 3170)
residual_axes(axr, (-1.0, 1.0), res_ticks5, True, "out", "out", left=False)

axl = box(658, 625, 822, 648)
axl.axhline(0, color=BLACK, lw=1.2, xmin=0, xmax=1.1, clip_on=False)
line(axl, t_dl, d_blue_res_l, BLUE, 3.0)
axl.set_xlim(0, 450)
residual_axes(axl, (-1.0, 1.0), res_ticks5, False, "out", "out", right=False)
axr = box(838, 625, 1022, 648)
axr.axhline(0, color=BLACK, lw=1.2)
line(axr, t_dr, d_blue_res_r, BLUE, 3.0)
axr.set_xlim(520, 3170)
residual_axes(axr, (-1.0, 1.0), res_ticks5, False, "out", "out", left=False)

axl = box(658, 659, 822, 803)
axr = box(838, 659, 1022, 803)
line(axl, t_dl, d_red_l, RED, 3.0)
line(axl, t_dl, d_blue_l, BLUE, 3.0)
line(axl, t_dl_fit, d_red_fit_l, BLACK, 1.6, 4)
line(axl, t_dl_fit, d_blue_fit_l, BLACK, 1.6, 4)
line(axr, t_dr, d_red_r, RED, 3.0)
line(axr, t_dr, d_blue_r, BLUE, 3.0)
line(axr, t_dr_fit, d_red_fit_r, BLACK, 1.6, 4)
line(axr, t_dr_fit, d_blue_fit_r, BLACK, 1.6, 4)
for a, lim, side in [(axl, (0, 450), "left"), (axr, (520, 3170), "right")]:
    a.set_xlim(*lim)
    a.set_ylim(0, 5.45)
    a.spines["top"].set_visible(False)
    a.spines["right" if side == "left" else "left"].set_visible(False)
    a.set_yticks([0, 1, 2, 3, 4, 5])
    a.tick_params(axis="y", left=(side == "left"), right=(side == "right"),
                  labelleft=False, labelright=False, direction="out", length=6, width=1)
    a.tick_params(axis="x", which="both", bottom=True, direction="out", width=1)
    a.tick_params(axis="x", which="major", length=8, labelsize=TICK, pad=5)
    a.tick_params(axis="x", which="minor", length=5)
axl.xaxis.set_major_locator(FixedLocator([0, 200, 400]))
axl.xaxis.set_minor_locator(FixedLocator([100, 300]))
axr.xaxis.set_major_locator(FixedLocator([1000, 2000, 3000]))
axr.xaxis.set_minor_locator(FixedLocator([1500, 2500]))
axl.text(189, 0.61, "500 nm", fontsize=25, **bold)
leg = axl.legend([Line2D([], [], color=RED, lw=3.0), Line2D([], [], color=BLUE, lw=3.0),
                  Line2D([], [], color=BLACK, lw=1.6)], ["Aa-Py", "Py-Aa", "data fits"],
                 bbox_to_anchor=(0.543, 0.444), labelspacing=0.22,
                 prop=dict(weight="bold", size=17), **leg_kw)
leg.get_texts()[2].set_fontweight("normal")
leg.get_texts()[2].set_fontstyle("italic")

ftext(632, 723, r"$\Delta A$", rotation=90, fontsize=25)
ftext(846, 870, r"$\mathit{time}$  /  ps", fontsize=22)
ftext(598, 879, "d", fontsize=17, fontweight="bold")

fig.savefig("out.png", dpi=100)
